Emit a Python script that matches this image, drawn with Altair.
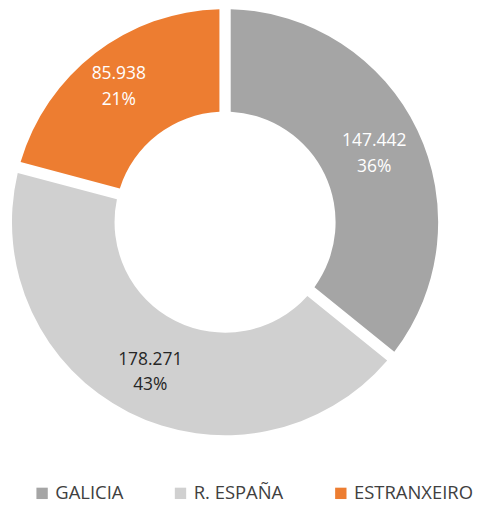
import altair as alt
import pandas as pd

categories = ["GALICIA", "R. ESPAÑA", "ESTRANXEIRO"]
values = [147442, 178271, 85938]
colors = ["#a5a5a5", "#d0d0d0", "#ed7d31"]

total = sum(values)
def fmt(v):
    return f"{v:,}".replace(",", ".")
labels = [f"{fmt(v)}\n{round(v / total * 100)}%" for v in values]

df = pd.DataFrame({"cat": categories, "value": values, "label": labels,
                   "idx": list(range(len(categories)))})

FONT = "Open Sans"
CX, CY = 218, 214

arcs = alt.Chart(df).mark_arc(innerRadius=111, outerRadius=214, padAngle=0.047).encode(
    theta=alt.Theta("value:Q", stack=True),
    order=alt.Order("idx:Q"),
    x=alt.value(CX), y=alt.value(CY),
    color=alt.Color("cat:N", scale=alt.Scale(domain=categories, range=colors),
                    sort=categories,
                    legend=alt.Legend(title=None, orient="none", direction="horizontal",
                                      legendX=25, legendY=477, symbolType="square",
                                      symbolSize=130, symbolStrokeWidth=0,
                                      labelFont=FONT, labelFontSize=18.5,
                                      labelColor="#404040", columnPadding=48,
                                      labelOffset=4, padding=0)),
)

text = alt.Chart(df).transform_window(
    cum="sum(value)", sort=[alt.SortField("idx")], frame=[None, 0]
).transform_joinaggregate(
    tot="sum(value)"
).transform_calculate(
    mid="(datum.cum - datum.value / 2) / datum.tot * 2 * PI",
    lr="datum.cat == 'ESTRANXEIRO' ? 175 : 166",
).mark_text(dy=-10, fontSize=17.5, font=FONT, lineBreak="\n",
            lineHeight=26, align="center", baseline="middle").encode(
    x=alt.value(CX), y=alt.value(CY),
    theta=alt.Theta("mid:Q", scale=None, stack=False),
    radius=alt.Radius("lr:Q", scale=None),
    text="label:N",
    color=alt.condition(alt.datum.cat == "R. ESPAÑA", alt.value("#262626"), alt.value("#ffffff")),
)

chart = alt.layer(arcs, text).resolve_scale(theta="independent").properties(
    width=466, height=488).configure(
    padding=0, background="#ffffff").configure_view(stroke=None)

chart.save("out.html", embed_options={"renderer": "svg", "actions": False})
